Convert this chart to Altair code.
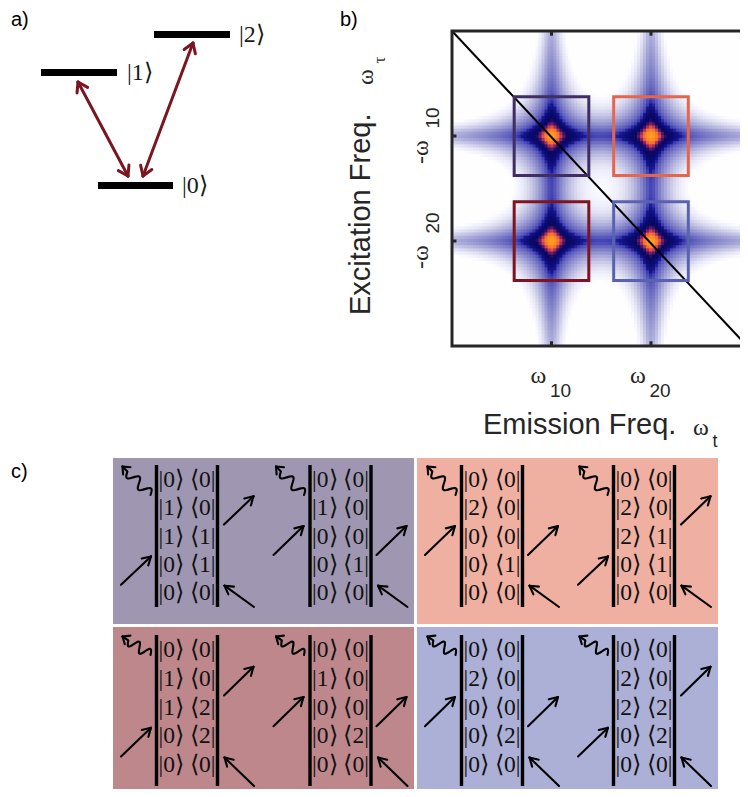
import math
import numpy as np
import pandas as pd
import altair as alt

alt.data_transformers.disable_max_rows()

# ---------------- page geometry (page pixels; chart covers the page inside the 8 px margin) ----------------
PAGE_X = [8, 740]
PAGE_Y = [8, 789]

# ---------------- panel a : level scheme ----------------
LEVEL_LABELS = ["|0⟩", "|1⟩", "|2⟩"]
LEVEL_X0 = [98, 41, 154]
LEVEL_X1 = [173, 117, 230]
LEVEL_Y = [185.5, 72.5, 34.5]
LEVEL_LABEL_X = [182, 127, 239]
TRANS_FROM_X = [128, 143]
TRANS_FROM_Y = [176, 176]
TRANS_TO_X = [78, 193]
TRANS_TO_Y = [82, 43]
TRANS_COLOR = "#7a1521"

# ---------------- panel b : 2D spectrum ----------------
T_RANGE = [0.0, 2.965]          # emission frequency axis (units of omega_10)
TAU_RANGE = [-3.0, 0.0]         # excitation frequency axis
T_PIX = [452, 747]
TAU_PIX = [346, 31]
PEAK_T = [1.0, 2.0]             # omega_10, omega_20
PEAK_TAU = [-1.0, -2.0]         # -omega_10, -omega_20
TICK_SUB = ["10", "20"]
GAMMA = 0.065
GRID_STEP = 0.03
BOX_T = [1.0, 2.0, 1.0, 2.0]
BOX_TAU = [-1.0, -1.0, -2.0, -2.0]
BOX_HALF = 0.375
BOX_COLORS = ["#3f2d63", "#e5664b", "#7d1420", "#5a62b0"]
HEAT_STOPS = [-3.0, -2.7, -2.35, -2.0, -1.6, -1.42, -1.33, -1.1, -0.82, -0.68, -0.52, -0.38, -0.15, 0.0]
HEAT_COLORS = ["#ffffff", "#e4e4f3", "#b8b8e0", "#8c8ccd", "#5c5cbc", "#3c3cb2", "#16168e",
               "#0a0a70", "#08085e", "#4a1868", "#b03858", "#f06838", "#ff9020", "#ffa020"]

# ---------------- panel c : double-sided diagrams ----------------
PANEL_X0 = [113, 417, 113, 417]
PANEL_X1 = [414, 718, 414, 718]
PANEL_Y0 = [458, 458, 627, 627]
PANEL_Y1 = [624, 624, 794, 794]
PANEL_COLORS = ["#9f97b2", "#efb0a2", "#bd878c", "#acafd6"]
DIAG_XL = [[156.5, 310], [461.5, 613.5], [156.5, 310], [461.5, 613.5]]
DIAG_GAP = 61
LINE_TOP = [465, 465, 635, 635]
LINE_BOT = [607, 607, 786, 786]
ROW_FIRST = [480, 480, 650, 650]
ROW_STEP = [28.3, 28.3, 28.75, 28.75]
WAVE_START_DY = [15, 15, 5, 5]
DIAG_ROWS = [
    [["00", "10", "11", "01", "00"], ["00", "10", "00", "01", "00"]],
    [["00", "20", "00", "01", "00"], ["00", "20", "21", "01", "00"]],
    [["00", "10", "12", "02", "00"], ["00", "10", "00", "02", "00"]],
    [["00", "20", "00", "02", "00"], ["00", "20", "22", "02", "00"]],
]

# ---------------- scales ----------------
def sx_pix():
    return alt.Scale(domain=PAGE_X, range=[0, PAGE_X[1] - PAGE_X[0]], nice=False, zero=False)

def sy_pix():
    return alt.Scale(domain=PAGE_Y, range=[0, PAGE_Y[1] - PAGE_Y[0]], nice=False, zero=False)

def sx_f():
    return alt.Scale(domain=T_RANGE, range=[T_PIX[0] - 8, T_PIX[1] - 8], nice=False, zero=False)

def sy_f():
    return alt.Scale(domain=TAU_RANGE, range=[TAU_PIX[0] - 8, TAU_PIX[1] - 8], nice=False, zero=False)

def X(f, s):
    return alt.X(f, type="quantitative", scale=s, axis=None)

def Y(f, s):
    return alt.Y(f, type="quantitative", scale=s, axis=None)

# ---------------- geometry helpers ----------------
paths = {"red": [], "black": []}
pid = [0]

def add_path(kind, pts):
    pid[0] += 1
    for i, (x, y) in enumerate(pts):
        paths[kind].append({"x": x, "y": y, "pid": pid[0], "o": i})

def head(kind, tx, ty, fx, fy, length, ang):
    a = math.atan2(fy - ty, fx - tx)
    for s in (-1, 1):
        b = a + s * math.radians(ang)
        add_path(kind, [(tx + length * math.cos(b), ty + length * math.sin(b)), (tx, ty)])

def arrow(kind, x0, y0, x1, y1, length=9.5, ang=30, both=False):
    add_path(kind, [(x0, y0), (x1, y1)])
    head(kind, x1, y1, x0, y0, length, ang)
    if both:
        head(kind, x0, y0, x1, y1, length, ang)

def wavy(kind, x0, y0, x1, y1, cycles=2.0, amp=5.0):
    L = math.hypot(x1 - x0, y1 - y0)
    ux, uy = (x1 - x0) / L, (y1 - y0) / L
    nx, ny = -uy, ux
    Lw = L - 7
    pts = []
    for i in range(41):
        s = Lw * i / 40
        off = amp * math.sin(2 * math.pi * cycles * s / Lw)
        pts.append((x0 + ux * s + nx * off, y0 + uy * s + ny * off))
    pts.append((x1, y1))
    add_path(kind, pts)
    head(kind, x1, y1, x0, y0, 8, 40)

# panel a arrows
for i in range(2):
    arrow("red", TRANS_FROM_X[i], TRANS_FROM_Y[i], TRANS_TO_X[i], TRANS_TO_Y[i],
          length=11, ang=33, both=True)

# panel c diagrams
vlines, kets = [], []
for p in range(4):
    for d in range(2):
        xl = DIAG_XL[p][d]
        xr = xl + DIAG_GAP
        rows = [ROW_FIRST[p] + k * ROW_STEP[p] for k in range(5)]
        vlines.append({"x": xl, "y0": LINE_TOP[p], "y1": LINE_BOT[p]})
        vlines.append({"x": xr, "y0": LINE_TOP[p], "y1": LINE_BOT[p]})
        for k, lab in enumerate(DIAG_ROWS[p][d]):
            kets.append({"x": (xl + xr) / 2, "y": rows[k],
                         "text": "|" + lab[0] + "⟩ ⟨" + lab[1] + "|"})
        wavy("black", xl - 6, rows[0] + WAVE_START_DY[p], xl - 34, rows[0] - 13.5)
        if DIAG_ROWS[p][d][2] == "00":
            arrow("black", xl - 36.5, rows[3] - 10, xl - 6.5, rows[2] - 10.5)
            arrow("black", xr + 5.5, rows[3] - 10, xr + 35.5, rows[2] - 10.5)
        else:
            arrow("black", xl - 35.5, rows[4] - 8.5, xl - 5.5, rows[3] - 8.5)
            arrow("black", xr + 6.5, rows[2] - 12, xr + 36, rows[1] - 12)
        arrow("black", xr + 36.5, LINE_BOT[p], xr + 7, rows[4] - 7.5)

# heat map (sum of 2D Lorentzian peaks, log intensity)
cells = []
ts = np.arange(T_RANGE[0], T_RANGE[1], GRID_STEP)
qs = np.arange(TAU_RANGE[0], TAU_RANGE[1], GRID_STEP)
for t in ts:
    for q in qs:
        tc, qc = t + GRID_STEP / 2, q + GRID_STEP / 2
        f = 0.0
        for pt in PEAK_T:
            for pq in PEAK_TAU:
                f += 1.0 / ((1 + ((tc - pt) / GAMMA) ** 2) * (1 + ((qc - pq) / GAMMA) ** 2))
        cells.append({"t0": round(t, 4), "t1": round(min(t + GRID_STEP * 1.25, T_RANGE[1]), 4),
                      "q0": round(q, 4), "q1": round(min(q + GRID_STEP * 1.25, TAU_RANGE[1]), 4),
                      "v": round(math.log10(f), 3)})
heat_df = pd.DataFrame(cells)

# ---------------- layers ----------------
layers = []

panels_df = pd.DataFrame({"x0": PANEL_X0, "x1": PANEL_X1, "y0": PANEL_Y0, "y1": PANEL_Y1,
                          "c": PANEL_COLORS})
layers.append(alt.Chart(panels_df).mark_rect().encode(
    x=X("x0", sx_pix()), x2="x1", y=Y("y0", sy_pix()), y2="y1",
    fill=alt.Fill("c:N", scale=None)))

layers.append(alt.Chart(heat_df).mark_rect().encode(
    x=X("t0", sx_f()), x2="t1", y=Y("q0", sy_f()), y2="q1",
    color=alt.Color("v:Q", scale=alt.Scale(domain=HEAT_STOPS, range=HEAT_COLORS, clamp=True),
                    legend=None)))

diag_df = pd.DataFrame({"t": [T_RANGE[0], T_RANGE[1]], "q": [TAU_RANGE[1], TAU_RANGE[0]]})
layers.append(alt.Chart(diag_df).mark_line(color="black", strokeWidth=2).encode(
    x=X("t", sx_f()), y=Y("q", sy_f())))

box_df = pd.DataFrame({"t": BOX_T, "q": BOX_TAU, "c": BOX_COLORS})
layers.append(alt.Chart(box_df).mark_rect(fillOpacity=0, strokeWidth=3).transform_calculate(
    t0=f"datum.t - {BOX_HALF}", t1=f"datum.t + {BOX_HALF}",
    q0=f"datum.q - {BOX_HALF}", q1=f"datum.q + {BOX_HALF}").encode(
    x=X("t0", sx_f()), x2="t1", y=Y("q0", sy_f()), y2="q1",
    stroke=alt.Stroke("c:N", scale=None)))

frame_df = pd.DataFrame({"t0": [T_RANGE[0]], "t1": [T_RANGE[1]], "q0": [TAU_RANGE[0]], "q1": [TAU_RANGE[1]]})
layers.append(alt.Chart(frame_df).mark_rect(fillOpacity=0, stroke="#262626", strokeWidth=3).encode(
    x=X("t0", sx_f()), x2="t1", y=Y("q0", sy_f()), y2="q1"))

tk = 0.045
tick_rows = []
for pt in PEAK_T:
    tick_rows.append({"t0": pt, "t1": pt, "q0": TAU_RANGE[1], "q1": TAU_RANGE[1] - tk})
    tick_rows.append({"t0": pt, "t1": pt, "q0": TAU_RANGE[0], "q1": TAU_RANGE[0] + tk})
for pq in PEAK_TAU:
    tick_rows.append({"t0": T_RANGE[0], "t1": T_RANGE[0] + tk, "q0": pq, "q1": pq})
    tick_rows.append({"t0": T_RANGE[1], "t1": T_RANGE[1] - tk, "q0": pq, "q1": pq})
layers.append(alt.Chart(pd.DataFrame(tick_rows)).mark_rule(color="#262626", strokeWidth=3).encode(
    x=X("t0", sx_f()), x2="t1", y=Y("q0", sy_f()), y2="q1"))

# axis tick labels of panel b
xt_df = pd.DataFrame({"t": PEAK_T, "sub": TICK_SUB, "w": ["ω", "ω"]})
layers.append(alt.Chart(xt_df).mark_text(font="Liberation Serif", fontSize=24, align="center",
                                         baseline="alphabetic", xOffset=-13, color="#262626").encode(
    x=X("t", sx_f()), y=alt.value(383 - 8), text="w:N"))
layers.append(alt.Chart(xt_df).mark_text(font="Liberation Sans", fontSize=19, align="center",
                                         baseline="alphabetic", xOffset=9, color="#262626").encode(
    x=X("t", sx_f()), y=alt.value(397 - 8), text="sub:N"))
yt_df = pd.DataFrame({"q": PEAK_TAU, "sub": TICK_SUB, "w": ["-ω", "-ω"]})
layers.append(alt.Chart(yt_df).mark_text(font="Liberation Serif", fontSize=24, align="center",
                                         baseline="alphabetic", angle=270, yOffset=16,
                                         color="#262626").encode(
    x=alt.value(428 - 8), y=Y("q", sy_f()), text="w:N"))
layers.append(alt.Chart(yt_df).mark_text(font="Liberation Sans", fontSize=19, align="center",
                                         baseline="alphabetic", angle=270, yOffset=-18,
                                         color="#262626").encode(
    x=alt.value(439 - 8), y=Y("q", sy_f()), text="sub:N"))

# energy levels
lev_df = pd.DataFrame({"x0": LEVEL_X0, "x1": LEVEL_X1, "y": LEVEL_Y, "lx": LEVEL_LABEL_X,
                       "lab": LEVEL_LABELS})
layers.append(alt.Chart(lev_df).mark_rule(color="black", strokeWidth=7, strokeCap="butt").encode(
    x=X("x0", sx_pix()), x2="x1", y=Y("y", sy_pix())))
layers.append(alt.Chart(lev_df).mark_text(font="Liberation Serif", fontSize=24, align="left",
                                          baseline="middle", color="#1a1a1a").encode(
    x=X("lx", sx_pix()), y=Y("y", sy_pix()), text="lab:N"))

# arrows
red_df = pd.DataFrame(paths["red"])
layers.append(alt.Chart(red_df).mark_line(color=TRANS_COLOR, strokeWidth=3, strokeCap="round",
                                          strokeJoin="round").encode(
    x=X("x", sx_pix()), y=Y("y", sy_pix()), detail="pid:N", order="o:Q"))
blk_df = pd.DataFrame(paths["black"])
layers.append(alt.Chart(blk_df).mark_line(color="black", strokeWidth=2.1, strokeCap="round",
                                          strokeJoin="round").encode(
    x=X("x", sx_pix()), y=Y("y", sy_pix()), detail="pid:N", order="o:Q"))

# diagram vertical lines and kets
layers.append(alt.Chart(pd.DataFrame(vlines)).mark_rule(color="black", strokeWidth=3.4,
                                                        strokeCap="butt").encode(
    x=X("x", sx_pix()), y=Y("y0", sy_pix()), y2="y1"))
layers.append(alt.Chart(pd.DataFrame(kets)).mark_text(font="Liberation Serif", fontSize=23.5,
                                                      align="center", baseline="middle",
                                                      color="#111111").encode(
    x=X("x", sx_pix()), y=Y("y", sy_pix()), text="text:N"))

# titles / labels
lab_df = pd.DataFrame({"x": [11, 340, 11], "y": [26, 26, 478], "text": ["a)", "b)", "c)"]})
layers.append(alt.Chart(lab_df).mark_text(font="Liberation Sans", fontSize=20, align="left",
                                          baseline="alphabetic").encode(
    x=X("x", sx_pix()), y=Y("y", sy_pix()), text="text:N"))

axt_df = pd.DataFrame({"x": [483], "y": [434], "text": ["Emission Freq."]})
layers.append(alt.Chart(axt_df).mark_text(font="Liberation Sans", fontSize=29, align="left",
                                          baseline="alphabetic", color="#262626").encode(
    x=X("x", sx_pix()), y=Y("y", sy_pix()), text="text:N"))
ayt_df = pd.DataFrame({"x": [370], "y": [315], "text": ["Excitation Freq."]})
layers.append(alt.Chart(ayt_df).mark_text(font="Liberation Sans", fontSize=29, align="left",
                                          baseline="alphabetic", angle=270, color="#262626").encode(
    x=X("x", sx_pix()), y=Y("y", sy_pix()), text="text:N"))

sym_df = pd.DataFrame({"x": [701, 715], "y": [435, 447], "text": ["ω", "t"]})
layers.append(alt.Chart(sym_df.iloc[[0]]).mark_text(font="Liberation Serif", fontSize=24,
                                                    align="center", baseline="alphabetic",
                                                    color="#262626").encode(
    x=X("x", sx_pix()), y=Y("y", sy_pix()), text="text:N"))
layers.append(alt.Chart(sym_df.iloc[[1]]).mark_text(font="Liberation Sans", fontSize=18,
                                                    align="center", baseline="alphabetic",
                                                    color="#262626").encode(
    x=X("x", sx_pix()), y=Y("y", sy_pix()), text="text:N"))
symy_df = pd.DataFrame({"x": [373, 385], "y": [77, 60], "text": ["ω", "τ"]})
layers.append(alt.Chart(symy_df.iloc[[0]]).mark_text(font="Liberation Serif", fontSize=24,
                                                     align="center", baseline="alphabetic",
                                                     angle=270, color="#262626").encode(
    x=X("x", sx_pix()), y=Y("y", sy_pix()), text="text:N"))
layers.append(alt.Chart(symy_df.iloc[[1]]).mark_text(font="Liberation Serif", fontSize=17,
                                                     align="center", baseline="alphabetic",
                                                     angle=270, color="#262626").encode(
    x=X("x", sx_pix()), y=Y("y", sy_pix()), text="text:N"))

chart = alt.layer(*layers).resolve_scale(
    x="independent", y="independent", color="independent"
).properties(
    width=PAGE_X[1] - PAGE_X[0], height=PAGE_Y[1] - PAGE_Y[0],
    autosize=alt.AutoSizeParams(type="none"), padding=0, background="white"
).configure_view(stroke=None)

chart.save("out.html", embed_options={"renderer": "svg", "actions": False})
